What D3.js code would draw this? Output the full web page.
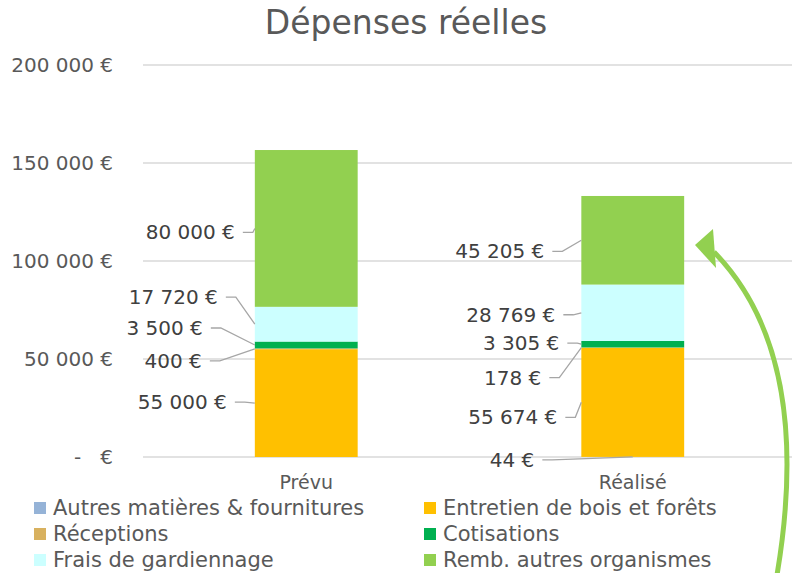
<!DOCTYPE html>
<html>
<head>
<meta charset="utf-8">
<script src="https://cdn.jsdelivr.net/npm/d3@7"></script>
<style>
  body { margin: 0; background: #fff; }
  svg text { font-family: "DejaVu Sans", sans-serif; }
</style>
</head>
<body>
<script>
// data
const categories = ["Prévu", "Réalisé"];
const seriesNames = [
  "Autres matières & fournitures",
  "Entretien de bois et forêts",
  "Réceptions",
  "Cotisations",
  "Frais de gardiennage",
  "Remb. autres organismes"
];
const prevu   = [0, 55000, 400, 3500, 17720, 80000];
const realise = [44, 55674, 178, 3305, 28769, 45205];
const yTicks = [0, 50000, 100000, 150000, 200000];
const seriesColors = ["#95b3d7", "#ffc000", "#d8b15f", "#00b050", "#ccffff", "#92d050"];

// label placement (pixels: gap from bar edge, shift from segment middle, leader to bar centre)
const labelNudge = {
  "Prévu": [null, [-28, -1], [-53, 12], [-52, -17], [-37, -27], [-20, 4]],
  "Réalisé": [[-47, 3, true], [-24, 15], [-40, 30], [-22, -1], [-26, 2], [-37, 11]]
};

const width = 792, height = 573;
const fr = d3.formatLocale({decimal: ",", thousands: "\u00a0", grouping: [3], currency: ["", " €"]});
const fmt = v => fr.format(",")(v) + " €";

const svg = d3.select("body").append("svg")
  .attr("width", width).attr("height", height)
  .attr("viewBox", [0, 0, width, height]);

const y = d3.scaleLinear().domain([0, 200000]).range([457, 65]);
const x = d3.scaleBand().domain(categories).range([143, 796]);
const barW = x.bandwidth() * 0.315;

// title
svg.append("text")
  .attr("x", 406).attr("y", 34)
  .attr("text-anchor", "middle")
  .attr("fill", "#595959")
  .style("font-size", "33px")
  .text("Dépenses réelles");

// grid + y labels
svg.append("g").selectAll("line").data(yTicks).join("line")
  .attr("x1", 143).attr("x2", width)
  .attr("y1", d => y(d)).attr("y2", d => y(d))
  .attr("stroke", "#d9d9d9").attr("stroke-width", 1.5);

svg.append("g").selectAll("text").data(yTicks).join("text")
  .attr("x", 113).attr("y", d => y(d))
  .attr("dy", "0.35em")
  .attr("text-anchor", "end")
  .attr("fill", "#595959")
  .style("font-size", "20px")
  .style("white-space", "pre")
  .text(d => d === 0 ? "-   €" : fmt(d));

// stacked bars
const rows = categories.map((c, i) => {
  const vals = i === 0 ? prevu : realise;
  const r = {cat: c};
  seriesNames.forEach((s, j) => r[s] = vals[j]);
  return r;
});
const stacked = d3.stack().keys(seriesNames)(rows);

const segs = [];
stacked.forEach((layer, j) => {
  layer.forEach(d => segs.push({
    series: layer.key, j, cat: d.data.cat,
    y0: d[0], y1: d[1], value: d[1] - d[0]
  }));
});

svg.append("g").selectAll("rect").data(segs).join("rect")
  .attr("x", d => x(d.cat) + (x.bandwidth() - barW) / 2)
  .attr("width", barW)
  .attr("y", d => y(d.y1))
  .attr("height", d => y(d.y0) - y(d.y1))
  .attr("fill", d => seriesColors[d.j]);

// data labels with leader lines
const lab = segs.filter(d => labelNudge[d.cat][d.j]).map(d => {
  const n = labelNudge[d.cat][d.j];
  const left = x(d.cat) + (x.bandwidth() - barW) / 2;
  const my = y((d.y0 + d.y1) / 2);
  return {
    d, left, my,
    lx: left + n[0],
    ly: my + n[1],
    tx: n[2] ? x(d.cat) + x.bandwidth() / 2 : left
  };
});

svg.append("g").selectAll("path").data(lab).join("path")
  .attr("fill", "none")
  .attr("stroke", "#a6a6a6")
  .attr("stroke-width", 1.3)
  .attr("d", l => {
    const sx = l.lx + 8;
    const hx = Math.min(sx + 10, l.tx - 2);
    return `M${sx},${l.ly}H${hx}L${l.tx},${l.my}`;
  });

svg.append("g").selectAll("text").data(lab).join("text")
  .attr("x", l => l.lx).attr("y", l => l.ly)
  .attr("dy", "0.35em")
  .attr("text-anchor", "end")
  .attr("fill", "#404040")
  .style("font-size", "20px")
  .text(l => fmt(l.d.value));

// category labels
svg.append("g").selectAll("text").data(categories).join("text")
  .attr("x", d => x(d) + x.bandwidth() / 2)
  .attr("y", 489)
  .attr("text-anchor", "middle")
  .attr("fill", "#595959")
  .style("font-size", "19px")
  .text(d => d);

// legend
const leg = svg.append("g").selectAll("g").data(seriesNames).join("g")
  .attr("transform", (d, i) => `translate(${i % 2 ? 424 : 34},${508 + Math.floor(i / 2) * 26})`);
leg.append("rect")
  .attr("y", -6).attr("width", 12).attr("height", 12)
  .attr("fill", (d, i) => seriesColors[i]);
leg.append("text")
  .attr("x", 19).attr("dy", "0.35em")
  .attr("fill", "#595959")
  .style("font-size", "21px")
  .text(d => d);

// green arrow annotation
svg.append("path")
  .attr("d", "M777,575 C798,450 790,330 714,252")
  .attr("fill", "none")
  .attr("stroke", "#92d050")
  .attr("stroke-width", 5);
svg.append("path")
  .attr("d", "M695,245 L713,229 L716,268 Z")
  .attr("fill", "#92d050");
</script>
</body>
</html>
